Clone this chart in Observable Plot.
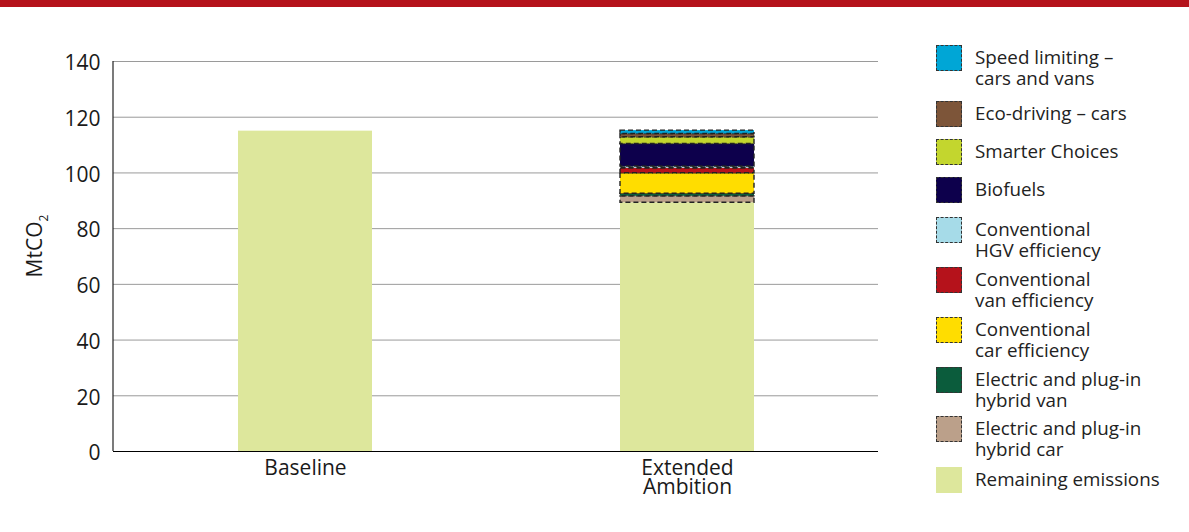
<!DOCTYPE html>
<html>
<head>
<meta charset="utf-8">
<script src="https://cdn.jsdelivr.net/npm/d3@7"></script>
<script src="https://cdn.jsdelivr.net/npm/@observablehq/plot@0.6"></script>
<style>
  html, body { margin: 0; padding: 0; background: #fff; }
  body { width: 1189px; height: 532px; position: relative; overflow: hidden; font-family: "Open Sans", "Noto Sans", sans-serif; color: #222; }
  #topbar { position: absolute; left: 0; top: 0; width: 1189px; height: 7px; background: #b5121b; }
  #chart { position: absolute; left: 0; top: 0; }
  #legend { position: absolute; left: 0; top: 0; }
  .item { position: absolute; left: 936px; }
  .sw { position: absolute; left: 0; top: 0; width: 24px; height: 24px; border: 1.5px dashed #333; }
  .sw.solid { border: 1.5px solid transparent; }
  .lt { position: absolute; left: 39px; top: 2px; font-size: 18.8px; line-height: 21px; white-space: nowrap; color: #222; }
</style>
</head>
<body>
<div id="chart"></div>
<div id="legend"></div>
<div id="topbar"></div>
<script>
// Categories (x axis)
const categories = ["Baseline", "Extended Ambition"];
const categoryLabels = ["Baseline", "Extended\nAmbition"];

// Series, stacked bottom to top
const series = [
  "Remaining emissions",
  "Electric and plug-in hybrid car",
  "Electric and plug-in hybrid van",
  "Conventional car efficiency",
  "Conventional van efficiency",
  "Conventional HGV efficiency",
  "Biofuels",
  "Smarter Choices",
  "Eco-driving – cars",
  "Speed limiting – cars and vans"
];
const seriesColors = [
  "#dde79c", "#bba08a", "#0b5c3c", "#ffdd00", "#b5121b",
  "#a6dbe8", "#0d004c", "#c3d62e", "#7d5539", "#00a6d6"
];

// Values (MtCO2) per series for each category
const baselineValues = [115, 0, 0, 0, 0, 0, 0, 0, 0, 0];
const extendedValues = [89.3, 2.3, 0.9, 7.4, 1.8, 0.6, 8.1, 2.4, 1.2, 1.2];

// Legend labels, top to bottom
const legendLabels = [
  "Speed limiting –\ncars and vans",
  "Eco-driving – cars",
  "Smarter Choices",
  "Biofuels",
  "Conventional\nHGV efficiency",
  "Conventional\nvan efficiency",
  "Conventional\ncar efficiency",
  "Electric and plug-in\nhybrid van",
  "Electric and plug-in\nhybrid car",
  "Remaining emissions"
];
const legendTops = [45, 101, 139, 177, 217, 267, 317, 367, 416, 467];

const yTicks = [0, 20, 40, 60, 80, 100, 120, 140];

const rows = [];
[baselineValues, extendedValues].forEach((vals, ci) => {
  vals.forEach((v, si) => {
    if (v > 0) rows.push({category: categories[ci], series: series[si], value: v});
  });
});

const fontFamily = '"Open Sans", "Noto Sans", sans-serif';

const plot = Plot.plot({
  width: 900,
  height: 520,
  marginLeft: 113,
  marginRight: 22,
  marginTop: 61,
  marginBottom: 69,
  style: {fontFamily, fontSize: "21px", color: "#1a1a1a", background: "transparent"},
  x: {
    domain: categories,
    paddingInner: 0.65,
    paddingOuter: 0.325,
    axis: null
  },
  y: {
    domain: [0, 140],
    axis: null
  },
  color: {domain: series, range: seriesColors},
  marks: [
    Plot.ruleY(yTicks.filter(d => d > 0), {stroke: "#9a9a9a", strokeWidth: 1}),
    Plot.axisY({
      ticks: yTicks,
      tickFormat: d => String(d),
      label: null,
      tickSize: 0,
      tickPadding: 13,
      dy: 2,
      fontSize: 21
    }),
    Plot.axisX({
      tickFormat: d => categoryLabels[categories.indexOf(d)],
      label: null,
      tickSize: 0,
      tickPadding: 11,
      lineHeight: 0.87,
      fontSize: 21
    }),
    Plot.barY(rows, {
      x: "category",
      y: "value",
      fill: "series",
      order: null,
      stroke: "#222",
      strokeWidth: 1.4,
      strokeDasharray: "5,3",
      strokeOpacity: d => d.series === "Remaining emissions" ? 0 : 1
    }),
    Plot.ruleY([0], {stroke: "#000", strokeWidth: 1.2})
  ]
});

document.getElementById("chart").appendChild(plot);

// vertical axis line at the left edge of the x range
const svg = d3.select(plot);
const xr = plot.scale("x").range;
const yr = plot.scale("y").range;
svg.append("line")
  .attr("x1", xr[0]).attr("x2", xr[0])
  .attr("y1", yr[0]).attr("y2", yr[1])
  .attr("stroke", "#222").attr("stroke-width", 1.2);

// y axis label with subscript
const yl = svg.append("text")
  .attr("transform", `translate(42,${(yr[0] + yr[1]) / 2 - 10}) rotate(-90)`)
  .attr("text-anchor", "middle")
  .attr("font-family", fontFamily)
  .attr("font-size", "21px")
  .attr("fill", "#1a1a1a");
yl.append("tspan").text("MtCO");
yl.append("tspan").attr("font-size", "12px").attr("dy", "6").text("2");

// legend (top to bottom = reverse of stacking order)
const legend = document.getElementById("legend");
legendLabels.forEach((lab, i) => {
  const si = series.length - 1 - i;
  const item = document.createElement("div");
  item.className = "item";
  item.style.top = legendTops[i] + "px";
  const sw = document.createElement("div");
  sw.className = "sw" + (series[si] === "Remaining emissions" ? " solid" : "");
  sw.style.background = seriesColors[si];
  const t = document.createElement("div");
  t.className = "lt";
  t.innerHTML = lab.split("\n").join("<br>");
  item.appendChild(sw);
  item.appendChild(t);
  legend.appendChild(item);
});
</script>
</body>
</html>
